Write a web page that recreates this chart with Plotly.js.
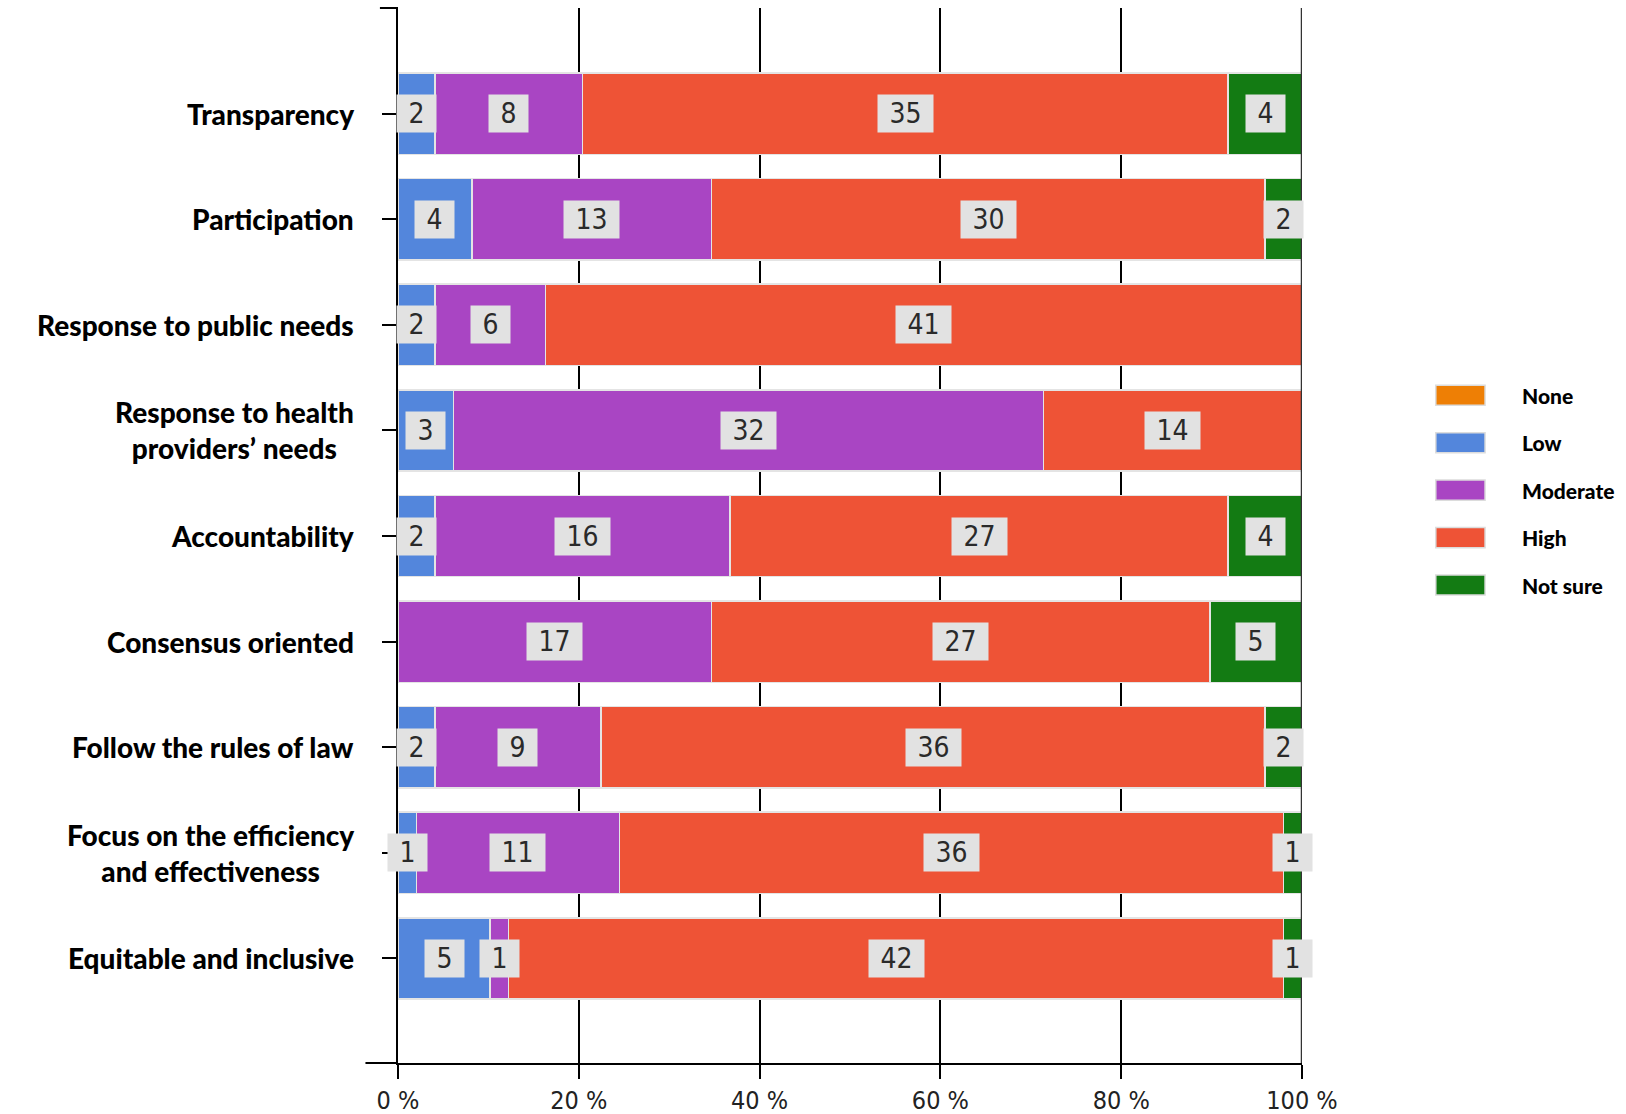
<!DOCTYPE html>
<html>
<head>
<meta charset="utf-8">
<script src="https://cdn.plot.ly/plotly-3.0.1.min.js"></script>
<style>
  html, body { margin: 0; padding: 0; background: #ffffff; }
  #chart { width: 1626px; height: 1114px; }
</style>
</head>
<body>
<div id="chart"></div>
<script>
// ---- data ----
const categories = [
  'Transparency',
  'Participation',
  'Response to public needs',
  'Response to health<br>providers’ needs',
  'Accountability',
  'Consensus oriented',
  'Follow the rules of law',
  'Focus on the efficiency<br>and effectiveness',
  'Equitable and inclusive'
];
const seriesNames = ['None', 'Low', 'Moderate', 'High', 'Not sure'];
const noneVals     = [0, 0, 0, 0, 0, 0, 0, 0, 0];
const lowVals      = [2, 4, 2, 3, 2, 0, 2, 1, 5];
const moderateVals = [8, 13, 6, 32, 16, 17, 9, 11, 1];
const highVals     = [35, 30, 41, 14, 27, 27, 36, 36, 42];
const notSureVals  = [4, 2, 0, 0, 4, 5, 2, 1, 1];
const xTickVals    = [0, 20, 40, 60, 80, 100];
const xTickText    = ['0 %', '20 %', '40 %', '60 %', '80 %', '100 %'];

// ---- styles ----
const seriesColors = ['#ee7f05', '#5386dc', '#a945c3', '#ee5336', '#137b13'];
const allSeries = [noneVals, lowVals, moderateVals, highVals, notSureVals];
const narrowFont = 'Liberation Sans Narrow, DejaVu Sans Condensed, Arial Narrow, sans-serif';
const labelFont = 'Lato, Noto Sans, sans-serif';

const traces = allSeries.map((vals, i) => ({
  type: 'bar',
  orientation: 'h',
  name: seriesNames[i],
  y: categories,
  x: vals,
  marker: { color: seriesColors[i], line: { color: '#e4e4e4', width: 1.5 } },
  hoverinfo: 'skip',
  showlegend: false
}));

// totals per category (for percent positions of the value boxes)
const totals = categories.map((c, k) => allSeries.reduce((s, arr) => s + arr[k], 0));

const annotations = [];
categories.forEach((cat, k) => {
  let cum = 0;
  allSeries.forEach((arr, i) => {
    const v = arr[k];
    const pct = v / totals[k] * 100;
    if (v > 0) {
      const txt = String(v);
      annotations.push({
        xref: 'x', yref: 'y', x: cum + pct / 2, y: cat,
        text: txt, showarrow: false,
        bgcolor: '#e2e2e2',
        width: txt.length > 1 ? 55 : 39, height: 37, borderpad: 0,
        font: { family: narrowFont, size: 28, color: '#2a2a2a' }
      });
    }
    cum += pct;
  });
  // category label
  annotations.push({
    xref: 'paper', yref: 'y', x: -0.046, y: cat,
    xanchor: 'right', align: 'center',
    text: cat, showarrow: false,
    font: { family: labelFont, size: 28, weight: 900, color: '#000000' }
  });
});

// custom legend
const shapes = [];
const legTop = 0.633, legStep = 0.045;
seriesNames.forEach((n, i) => {
  const yc = legTop - i * legStep;
  shapes.push({
    type: 'rect', xref: 'paper', yref: 'paper',
    x0: 1.148, x1: 1.2025, y0: yc - 0.0095, y1: yc + 0.0095,
    fillcolor: seriesColors[i], line: { color: '#dcdcdc', width: 1.5 }
  });
  annotations.push({
    xref: 'paper', yref: 'paper', x: 1.241, y: yc,
    xanchor: 'left', yanchor: 'middle', showarrow: false,
    text: n,
    font: { family: labelFont, size: 21, weight: 900, color: '#000000' }
  });
});

// axis decorations
shapes.push({ type: 'line', xref: 'paper', yref: 'paper', x0: -0.02, x1: 0, y0: 1, y1: 1, line: { color: '#000', width: 2 } });
shapes.push({ type: 'line', xref: 'paper', yref: 'paper', x0: -0.036, x1: 0, y0: 0, y1: 0, line: { color: '#000', width: 2 } });
shapes.push({ type: 'line', xref: 'x', yref: 'paper', x0: 100, x1: 100, y0: 0, y1: 1, layer: 'above', line: { color: '#333', width: 2.5 } });

const layout = {
  width: 1626, height: 1114,
  margin: { l: 398, r: 324, t: 8, b: 51 },
  paper_bgcolor: '#ffffff', plot_bgcolor: '#ffffff',
  barmode: 'stack', barnorm: 'percent', bargap: 0.23,
  showlegend: false,
  xaxis: {
    range: [0, 100], tickvals: xTickVals, ticktext: xTickText,
    showgrid: true, gridcolor: '#000000', gridwidth: 2,
    zeroline: false, showline: true, linecolor: '#000000', linewidth: 2,
    ticks: 'outside', ticklen: 14, tickwidth: 2, tickcolor: '#000000',
    ticklabelstandoff: 0,
    tickfont: { family: narrowFont, size: 25, color: '#222222' },
    fixedrange: true
  },
  yaxis: {
    type: 'category', categoryorder: 'array', categoryarray: categories,
    range: [8.99, -1.0],
    showgrid: false, zeroline: false,
    showline: true, linecolor: '#000000', linewidth: 2,
    ticks: 'outside', ticklen: 14, tickwidth: 2, tickcolor: '#000000',
    showticklabels: false, fixedrange: true
  },
  annotations: annotations,
  shapes: shapes
};

Plotly.newPlot('chart', traces, layout, { displayModeBar: false, staticPlot: true });
</script>
</body>
</html>
